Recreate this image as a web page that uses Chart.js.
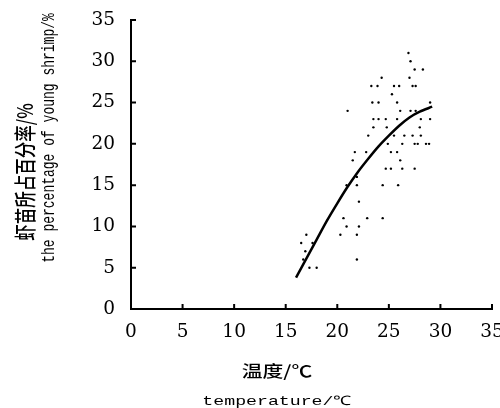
<!DOCTYPE html>
<html>
<head>
<meta charset="utf-8">
<script src="https://cdn.jsdelivr.net/npm/chart.js@4.4.1/dist/chart.umd.min.js"></script>
<style>
  html, body { margin: 0; padding: 0; background: #fff; }
  #wrap { position: relative; width: 500px; height: 408px; }
  #chart { position: absolute; left: 0; top: 0; }
  .lbl { position: absolute; white-space: nowrap; line-height: 1; color: #000; }
  .cn { font-family: "Noto Sans CJK SC", sans-serif; font-weight: 500; }
  .en { font-family: "Liberation Mono", "DejaVu Sans Mono", monospace; }
</style>
</head>
<body>
<div id="wrap">
  <canvas id="chart" width="500" height="408"></canvas>
  <div class="lbl cn" id="ycn" style="left:24px; top:172px; font-size:16.5px; transform: translate(-50%,-50%) rotate(-90deg) scaleY(1.3);">虾苗所占百分率/%</div>
  <div class="lbl en" id="yen" style="left:49px; top:138px; font-size:13px; transform: translate(-50%,-50%) rotate(-90deg) scaleY(1.45);">the percentage of young shrimp/%</div>
  <div class="lbl cn" id="xcn" style="left:277px; top:370px; font-size:16px; transform: translate(-50%,-50%) scaleX(1.3);">温度/℃</div>
  <div class="lbl en" id="xen" style="left:277px; top:401px; font-size:13px; transform: translate(-50%,-50%) scaleX(1.4);">temperature/℃</div>
</div>
<script>
// observed points: temperature (℃) and share of young shrimp (%)
const tempX = [
  26.9, 27.1, 27.5, 28.3, 24.3, 27.0,
  23.3, 23.9, 25.5, 26.0, 27.3, 27.6,
  25.3,
  23.4, 24.0, 25.8, 29.0,
  21.0, 26.1, 27.1, 27.6,
  23.5, 24.0, 24.7, 25.8, 28.1, 29.0,
  23.5, 24.8, 28.0,
  23.0, 25.5, 26.5, 27.3, 28.1,
  24.9, 26.3, 27.5, 27.8, 28.6, 28.9,
  21.7, 22.8, 25.2, 25.8,
  21.5, 26.1,
  24.7, 25.2, 26.3, 27.5,
  21.9,
  20.9, 21.9, 24.4, 25.9,
  22.1,
  20.6, 22.9, 24.4,
  20.9, 22.1,
  17.0, 20.3, 21.9,
  16.5, 17.6,
  16.9,
  16.7, 21.9,
  17.3, 18.0
];
const pctY = [
  31, 30, 29, 29, 28, 28,
  27, 27, 27, 27, 27, 27,
  26,
  25, 25, 25, 25,
  24, 24, 24, 24,
  23, 23, 23, 23, 23, 23,
  22, 22, 22,
  21, 21, 21, 21, 21,
  20, 20, 20, 20, 20, 20,
  19, 19, 19, 19,
  18, 18,
  17, 17, 17, 17,
  16,
  15, 15, 15, 15,
  13,
  11, 11, 11,
  10, 10,
  9, 9, 9,
  8, 8,
  7,
  6, 6,
  5, 5
];

// fitted curve
const fitX = [16.0, 17.0, 18.0, 19.0, 20.0, 21.0, 22.0, 23.0, 24.0, 25.0, 26.0, 27.0, 28.0, 29.2];
const fitY = [3.8, 6.1, 8.4, 10.7, 12.8, 14.8, 16.6, 18.2, 19.7, 21.0, 22.2, 23.2, 23.9, 24.5];

const axisTicks = [0, 5, 10, 15, 20, 25, 30, 35];

const dots = tempX.map((x, i) => ({ x: x, y: pctY[i] }));
const curve = fitX.map((x, i) => ({ x: x, y: fitY[i] }));

// short tick marks pointing into the plot
const innerTicks = {
  id: 'innerTicks',
  afterDraw(chart) {
    const ctx = chart.ctx;
    const xs = chart.scales.x, ys = chart.scales.y;
    const area = chart.chartArea;
    ctx.save();
    ctx.strokeStyle = '#000';
    ctx.lineWidth = 2;
    ctx.beginPath();
    axisTicks.forEach(v => {
      const px = xs.getPixelForValue(v);
      ctx.moveTo(px, area.bottom);
      ctx.lineTo(px, area.bottom - 5);
      const py = ys.getPixelForValue(v);
      ctx.moveTo(area.left, py);
      ctx.lineTo(area.left + 5, py);
    });
    ctx.stroke();
    ctx.restore();
  }
};

const tickFont = { family: '"DejaVu Serif", "Liberation Serif", serif', size: 18.5 };

new Chart(document.getElementById('chart').getContext('2d'), {
  type: 'scatter',
  data: {
    datasets: [
      {
        label: 'observed',
        data: dots,
        backgroundColor: '#000',
        borderColor: '#000',
        pointRadius: 1.2,
        borderWidth: 0
      },
      {
        label: 'fit',
        data: curve,
        showLine: true,
        borderColor: '#000',
        borderWidth: 2.5,
        pointRadius: 0,
        tension: 0.3
      }
    ]
  },
  options: {
    responsive: false,
    animation: false,
    layout: { padding: { left: 0, top: 20, right: 8, bottom: 0 } },
    plugins: {
      legend: { display: false },
      tooltip: { enabled: false }
    },
    scales: {
      x: {
        type: 'linear',
        min: 0,
        max: 35,
        afterFit(scale) {
          scale.height = 99;
          scale.paddingLeft = 0;
          scale.paddingRight = 0;
        },
        ticks: { stepSize: 5, color: '#000', font: tickFont, padding: 12, maxRotation: 0 },
        grid: { display: true, drawOnChartArea: false, drawTicks: false },
        border: { display: true, color: '#000', width: 2 }
      },
      y: {
        type: 'linear',
        min: 0,
        max: 35,
        afterFit(scale) {
          scale.width = 131;
          scale.paddingTop = 0;
          scale.paddingBottom = 0;
        },
        ticks: { stepSize: 5, color: '#000', font: tickFont, padding: 16 },
        grid: { display: true, drawOnChartArea: false, drawTicks: false },
        border: { display: true, color: '#000', width: 2 }
      }
    }
  },
  plugins: [innerTicks]
});
</script>
</body>
</html>
